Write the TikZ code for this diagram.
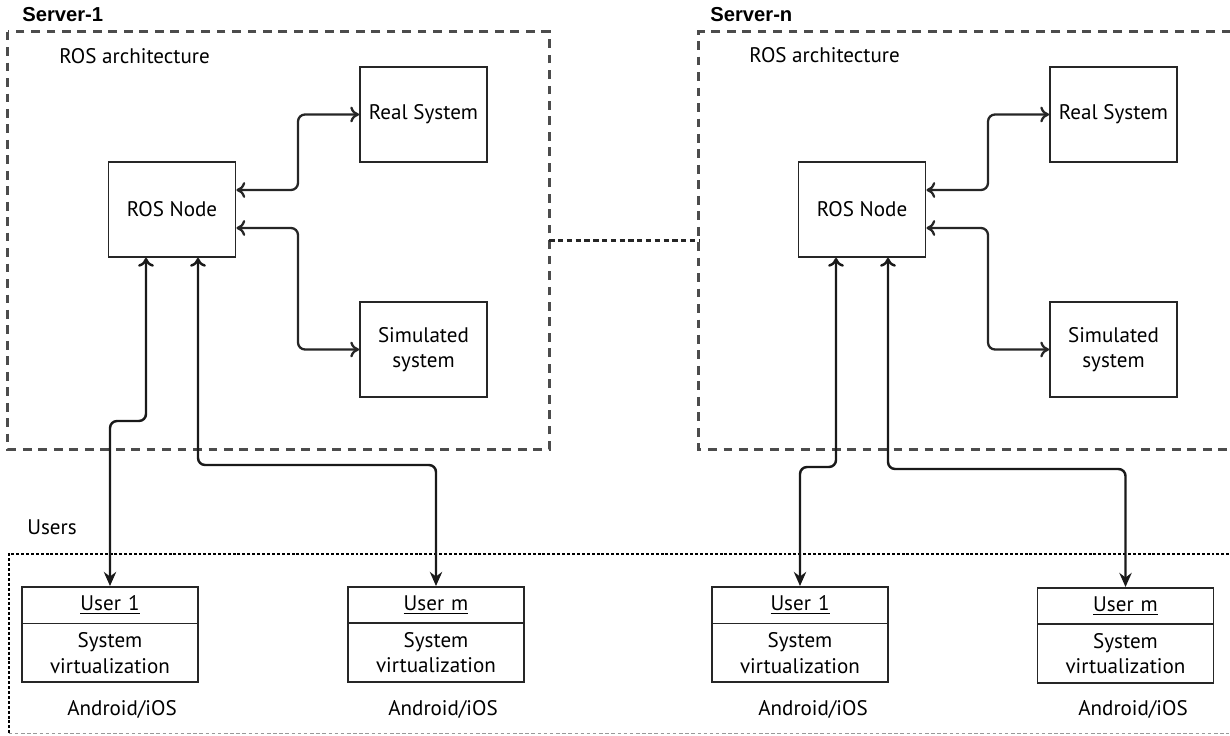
\documentclass[tikz,border=0pt]{standalone}
\usepackage{fontspec}
\setmainfont{PT Sans}
\newfontfamily\headfont{Liberation Sans}
\usetikzlibrary{arrows.meta,shapes.multipart}
\tikzset{boxstyle/.style = {rectangle, draw = black!85, line width = 1.1pt, minimum width = 2.54cm, minimum height = 1.9cm, align = center, font = \fontsize{12}{14.5}\selectfont},
	userstyle/.style = {rectangle split, rectangle split parts = 2, draw = black!85, line width = 1pt, text width = 3.3cm, align = center, inner xsep = 0.11cm, inner ysep = 4.6pt, font = \fontsize{12}{14.5}\selectfont},
	textstyle/.style = {inner sep = 0pt, font = \fontsize{12}{14.5}\selectfont},
	headstyle/.style = {anchor = west, inner sep = 0pt, font = \headfont\bfseries\fontsize{11.5}{13}\selectfont},
	areastyle/.style = {rectangle, inner sep = 0pt},
	serverline/.style = {black!70, line width = 1.4pt, dash pattern = on 5pt off 3.8pt},
	usersline/.style = {black, line width = 1pt, dash pattern = on 1.7pt off 1.1pt},
	bridge/.style = {black!85, line width = 1.2pt, dash pattern = on 3pt off 2pt},
	syslink/.style = {{To[length = 5pt, width = 9pt]}-{To[length = 5pt, width = 9pt]}, line width = 1.3pt, rounded corners = 4pt, black!85},
	userlink/.style = {{To[length = 5pt, width = 9pt]}-{Stealth[length = 8pt, width = 7pt]}, line width = 1.4pt, rounded corners = 4pt, black!90}}

\begin{document}
\begin{tikzpicture}[x = 0.02cm, y = -0.02cm]
 \useasboundingbox (0,0) rectangle (1230,736);

 \node (server1) at (278.5,240.5) [areastyle, minimum width = 10.82cm, minimum height = 8.34cm] {};
 \node (servern) at (964.5,240.5) [areastyle, minimum width = 10.62cm, minimum height = 8.34cm] {};
 \draw [serverline] (server1.north west) rectangle (server1.south east);
 \draw [serverline] (servern.north east) -- (servern.north west) -- (servern.south west) -- (servern.south east);
 \draw [bridge] (server1.east) -- (servern.west);

 \node (head1) at (22,15) [headstyle] {Server-1};
 \node (headn) at (710,15) [headstyle] {Server-n};
 \node (arch1) at (59,56) [textstyle, anchor = west] {ROS architecture};
 \node (archn) at (749,55) [textstyle, anchor = west] {ROS architecture};

 \node (ros1) at (172,209.5) [boxstyle] {ROS Node};
 \node (real1) at (423.5,114.5) [boxstyle] {Real System};
 \node (sim1) at (423.5,349.5) [boxstyle] {Simulated\\system};

 \node (ros2) at (862,209.5) [boxstyle] {ROS Node};
 \node (real2) at (1113.5,114.5) [boxstyle] {Real System};
 \node (sim2) at (1113.5,349.5) [boxstyle] {Simulated\\system};

 \draw [syslink] ([yshift = 0.39cm]ros1.east) -| (298,150) |- (real1.west);
 \draw [syslink] ([yshift = -0.37cm]ros1.east) -| (298,280) |- (sim1.west);
 \draw [syslink] ([yshift = 0.39cm]ros2.east) -| (988,150) |- (real2.west);
 \draw [syslink] ([yshift = -0.37cm]ros2.east) -| (988,280) |- (sim2.west);

 \node (users) at (619,643.5) [areastyle, minimum width = 24.4cm, minimum height = 3.58cm] {};
 \draw [usersline] (users.north east) -- (users.north west) -- (users.south west);
 \draw [black!40, line width = 0.6pt, dash pattern = on 2pt off 1.5pt] (users.south west) -- (users.south east);
 \node (userlabel) at (27,527) [textstyle, anchor = west] {Users};

 \node (user1a) at (110,586) [userstyle, anchor = north] {\underline{User 1}\nodepart{two}System\\virtualization};
 \node (userma) at (436,586) [userstyle, anchor = north] {\underline{User m}\nodepart{two}System\\virtualization};
 \node (user1b) at (800,586) [userstyle, anchor = north] {\underline{User 1}\nodepart{two}System\\virtualization};
 \node (usermb) at (1125.5,587) [userstyle, anchor = north] {\underline{User m}\nodepart{two}System\\virtualization};

 \node (os1a) at (122,709) [textstyle] {Android/iOS};
 \node (osma) at (443,709) [textstyle] {Android/iOS};
 \node (os1b) at (813,709) [textstyle] {Android/iOS};
 \node (osmb) at (1133,709) [textstyle] {Android/iOS};

 \draw [userlink] ([xshift = -0.52cm]ros1.south) |- (128,421) -| (user1a.north);
 \draw [userlink] ([xshift = 0.52cm]ros1.south) |- (300,465) -| (userma.north);
 \draw [userlink] ([xshift = -0.52cm]ros2.south) |- (820,467) -| (user1b.north);
 \draw [userlink] ([xshift = 0.52cm]ros2.south) |- (1000,469) -| (usermb.north);

\end{tikzpicture}
\end{document}
